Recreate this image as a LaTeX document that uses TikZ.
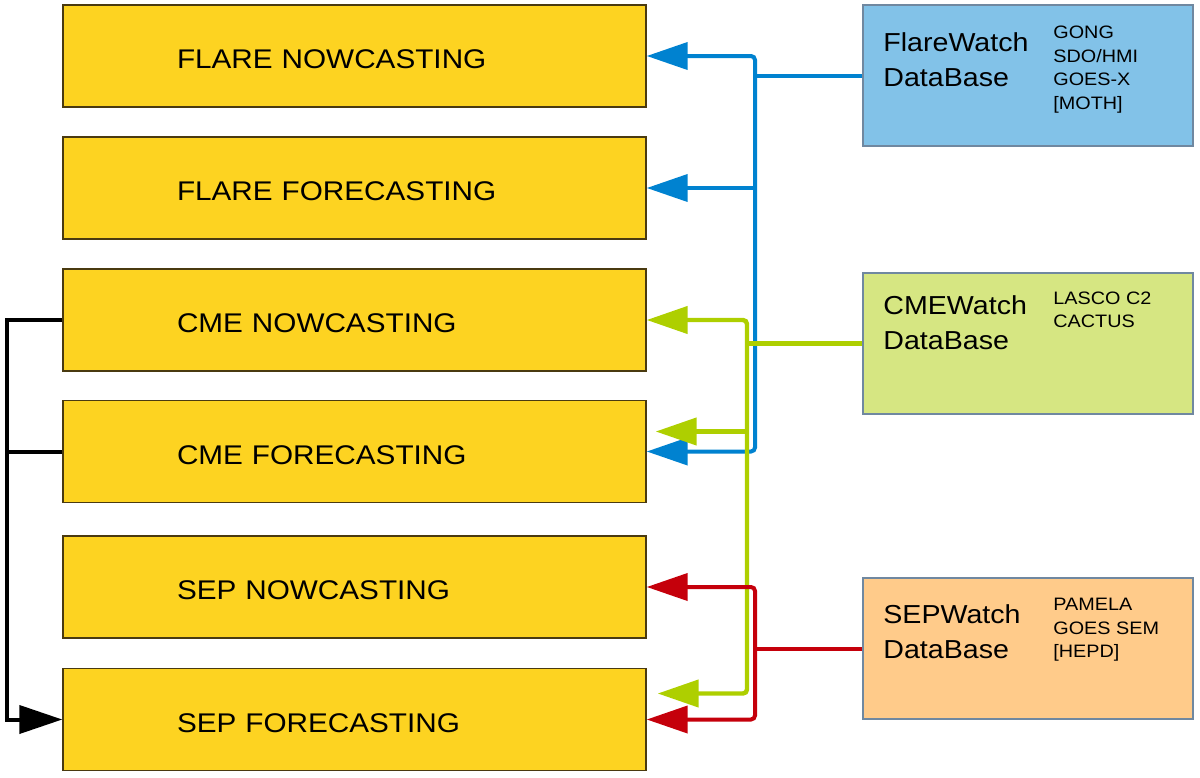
\documentclass[tikz,border=0pt]{standalone}
\usepackage{fontspec}
\setmainfont[FakeStretch=1.1]{Liberation Sans}
\usetikzlibrary{arrows.meta,calc}
\definecolor{taskyellow}{HTML}{FDD321}
\definecolor{taskborder}{HTML}{4A3A10}
\definecolor{flarefill}{HTML}{82C2E8}
\definecolor{cmefill}{HTML}{D6E682}
\definecolor{sepfill}{HTML}{FFCB8A}
\definecolor{dbborder}{HTML}{7088A0}
\definecolor{blueline}{HTML}{0082D0}
\definecolor{greenline}{HTML}{AECF00}
\definecolor{redline}{HTML}{C5000B}
\tikzset{
  taskbox/.style={draw=taskborder, line width=0.7pt, fill=taskyellow,
    minimum height=51pt, text width=177.5pt, inner xsep=57pt, inner ysep=0pt,
    text height=12.7pt, text depth=0pt,
    align=left, font=\fontsize{13.5}{16}\selectfont},
  dbbox/.style={draw=dbborder, line width=0.6pt, minimum width=165pt, minimum height=70.5pt, inner sep=0pt},
  bigtxt/.style={anchor=west, inner sep=0pt, align=left, font=\fontsize{13}{17.5}\selectfont},
  smalltxt/.style={anchor=west, inner sep=0pt, align=left, font=\fontsize{9}{11.75}\selectfont},
  dbtip/.tip={Triangle[length=20.5pt,width=13.5pt]},
  bktip/.tip={Triangle[length=21.5pt,width=14pt]},
  bl/.style={draw=blueline, line width=2pt, rounded corners=2pt},
  gr/.style={draw=greenline, line width=2.2pt, rounded corners=2pt},
  rd/.style={draw=redline, line width=2pt, rounded corners=2pt},
  bk/.style={draw=black, line width=2pt},
}
\begin{document}
\begin{tikzpicture}[x=0.5pt,y=-0.5pt]
\useasboundingbox (0,0) rectangle (1200,777);
% task boxes
\node[taskbox] (fn) at (354.5,56) {FLARE NOWCASTING};
\node[taskbox] (ff) at (354.5,188) {FLARE FORECASTING};
\node[taskbox] (cn) at (354.5,320) {CME NOWCASTING};
\node[taskbox] (cf) at (354.5,451.5) {CME FORECASTING};
\node[taskbox] (sn) at (354.5,587) {SEP NOWCASTING};
\node[taskbox] (sf) at (354.5,719.5) {SEP FORECASTING};
% database boxes
\node[dbbox, fill=flarefill] (fw) at (1028,75.5) {};
\node[dbbox, fill=cmefill] (cw) at (1028,343.5) {};
\node[dbbox, fill=sepfill] (sw) at (1028,648.5) {};
\node[bigtxt] (fwt) at (883,59.5) {FlareWatch\\DataBase};
\node[smalltxt] (fws) at (1053,69.5) {GONG\\SDO/HMI\\GOES-X\\{[MOTH]}};
\node[bigtxt] (cwt) at (883,322.5) {CMEWatch\\DataBase};
\node[smalltxt] (cws) at (1053,310) {LASCO C2\\CACTUS};
\node[bigtxt] (swt) at (883,632) {SEPWatch\\DataBase};
\node[smalltxt] (sws) at (1053,630) {PAMELA\\GOES SEM\\{[HEPD]}};
% trunk coordinates
\coordinate (bt) at (755,0);
\coordinate (gt) at (747,0);
\coordinate (lt) at (7,0);
\coordinate (cfg) at ($(cf.east)+(9,-20)$);
\coordinate (sfg) at ($(sf.east)+(11,-26)$);
% blue
\draw[bl] (fw.west) -- (fw.west -| bt);
\draw[bl, dbtip-dbtip] (fn.east) -- (fn.east -| bt) -- (cf.east -| bt) -- (cf.east);
\draw[bl, -dbtip] (ff.east -| bt) -- (ff.east);
% green
\draw[gr] (cw.west) -- (cw.west -| gt);
\draw[gr, dbtip-dbtip] (cn.east) -- (cn.east -| gt) -- (gt |- sfg) -- (sfg);
\draw[gr, -dbtip] (gt |- cfg) -- (cfg);
% red
\draw[rd] (sw.west) -- (sw.west -| bt);
\draw[rd, dbtip-dbtip] (sn.east) -- (sn.east -| bt) -- (sf.east -| bt) -- (sf.east);
% black
\draw[bk, -bktip] (cn.west) -- (cn.west -| lt) -- (sf.west -| lt) -- (sf.west);
\draw[bk] (cf.west) -- (cf.west -| lt);
\end{tikzpicture}
\end{document}
